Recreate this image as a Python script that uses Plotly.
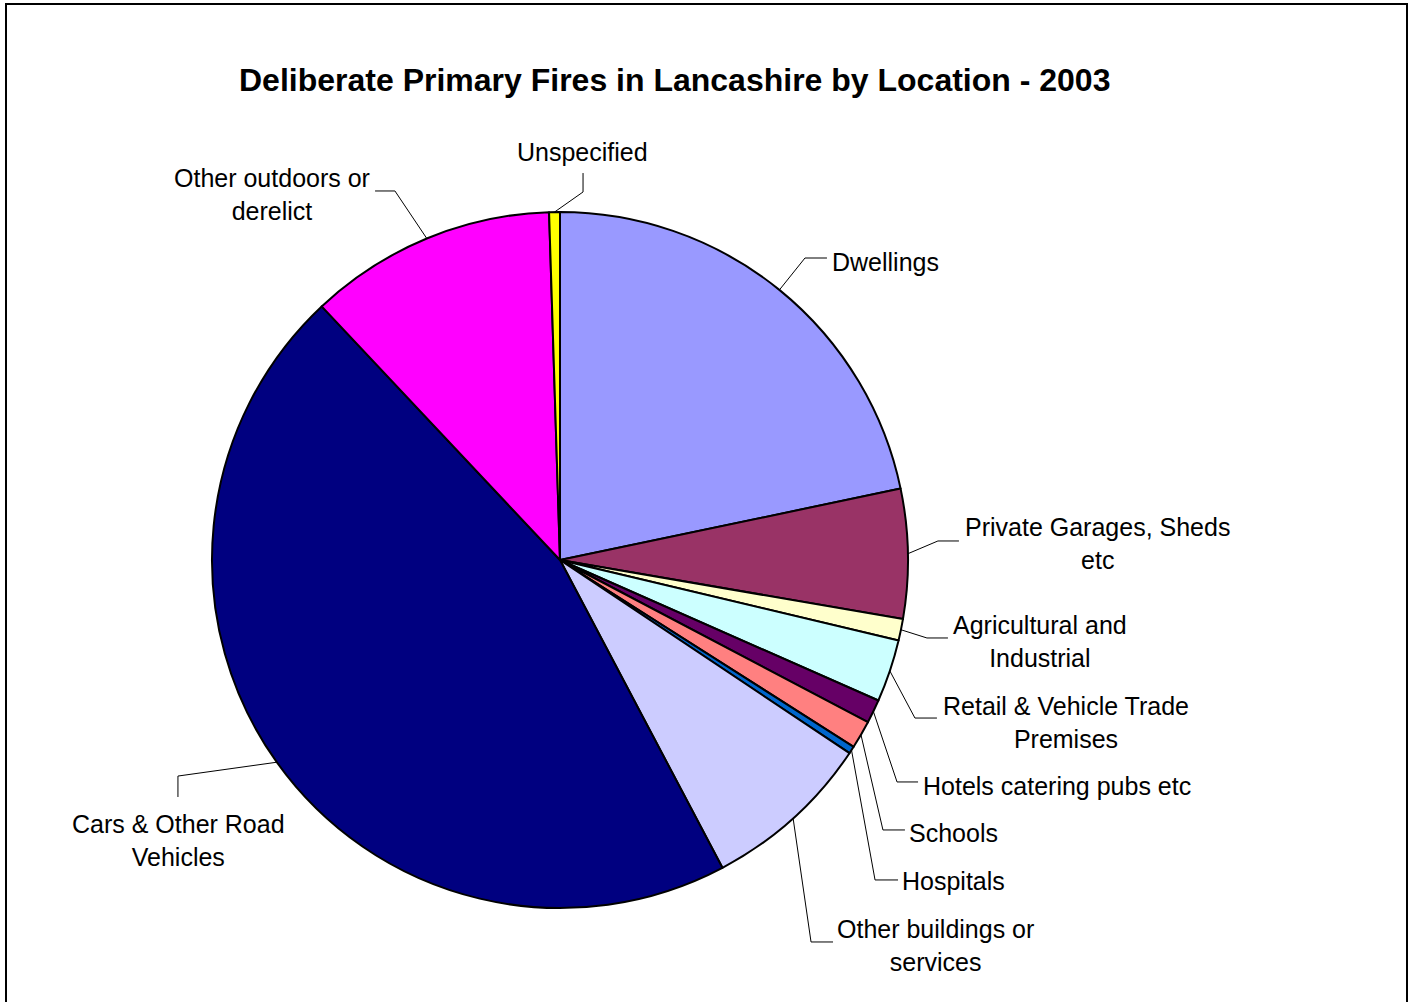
import math
import plotly.graph_objects as go

# ---- data ----
categories = [
    "Dwellings",
    "Private Garages, Sheds etc",
    "Agricultural and Industrial",
    "Retail & Vehicle Trade Premises",
    "Hotels catering pubs etc",
    "Schools",
    "Hospitals",
    "Other buildings or services",
    "Cars & Other Road Vehicles",
    "Other outdoors or derelict",
    "Unspecified",
]
values = [21.7, 6.0, 1.0, 2.9, 1.1, 1.3, 0.35, 7.9, 45.7, 11.5, 0.5]
label_texts = [
    "Dwellings",
    "Private Garages, Sheds<br>etc",
    "Agricultural and<br>Industrial",
    "Retail & Vehicle Trade<br>Premises",
    "Hotels catering pubs etc",
    "Schools",
    "Hospitals",
    "Other buildings or<br>services",
    "Cars & Other Road<br>Vehicles",
    "Other outdoors or<br>derelict",
    "Unspecified",
]
colors = ["#9999FF", "#993366", "#FFFFCC", "#CCFFFF", "#660066", "#FF8080",
          "#0066CC", "#CCCCFF", "#000080", "#FF00FF", "#FFFF00"]
title_text = "Deliberate Primary Fires in Lancashire by Location - 2003"

# ---- layout (pixels) ----
W, H = 1410, 1002
CX, CY, R = 560, 560, 348
FONT = "Liberation Sans, Arial, sans-serif"

# per-label placement: (text x, text y, xanchor, elbow point, end point)
label_layout = [
    (830, 262, "left", (805, 258), (827, 258)),
    (1097, 543.5, "center", (938, 541), (959, 541)),
    (1040, 641, "center", (927, 638), (948, 638)),
    (1066, 722, "center", (915, 718), (937, 718)),
    (921, 786, "left", (897, 782), (918, 782)),
    (907, 833, "left", (883, 830), (905, 830)),
    (900, 881, "left", (875, 880), (898, 880)),
    (936, 945.5, "center", (811, 942), (833, 942)),
    (179, 840.5, "center", (178, 776), (178, 797)),
    (272, 194, "center", (395, 191), (375, 191)),
    (582, 152, "center", (583, 192), (583, 173)),
]


def px(x):
    return x / W


def py(y):
    return 1 - y / H


fig = go.Figure()
fig.add_trace(go.Pie(
    labels=categories,
    values=values,
    sort=False,
    direction="clockwise",
    rotation=0,
    textinfo="none",
    hoverinfo="label+percent",
    showlegend=False,
    marker=dict(colors=colors, line=dict(color="black", width=2)),
    domain=dict(x=[px(CX - R), px(CX + R)], y=[py(CY + R), py(CY - R)]),
))

shapes = []
annotations = []
total = sum(values)
cum = 0.0
for v, txt, (tx, ty, xa, elbow, end) in zip(values, label_texts, label_layout):
    mid = (cum + v / 2) / total * 2 * math.pi
    cum += v
    ax = CX + R * math.sin(mid)
    ay = CY - R * math.cos(mid)
    path = "M {:.4f} {:.4f} L {:.4f} {:.4f} L {:.4f} {:.4f}".format(
        px(ax), py(ay), px(elbow[0]), py(elbow[1]), px(end[0]), py(end[1]))
    shapes.append(dict(type="path", path=path, xref="paper", yref="paper",
                       line=dict(color="black", width=1)))
    annotations.append(dict(
        text=txt, x=px(tx), y=py(ty), xref="paper", yref="paper",
        xanchor=xa, yanchor="middle", align="center", showarrow=False,
        font=dict(family=FONT, size=25, color="black")))

annotations.append(dict(
    text="<b>" + title_text + "</b>", x=px(674.5), y=py(80),
    xref="paper", yref="paper", xanchor="center", yanchor="middle",
    showarrow=False, font=dict(family=FONT, size=32, color="black")))

# chart border
shapes.append(dict(type="rect", xref="paper", yref="paper",
                   x0=px(6), y0=py(1010), x1=px(1407), y1=py(4),
                   line=dict(color="black", width=2)))

fig.update_layout(
    width=W, height=H, autosize=False,
    margin=dict(l=0, r=0, t=0, b=0),
    paper_bgcolor="white", plot_bgcolor="white",
    shapes=shapes, annotations=annotations,
)

fig.write_html("out.html")
